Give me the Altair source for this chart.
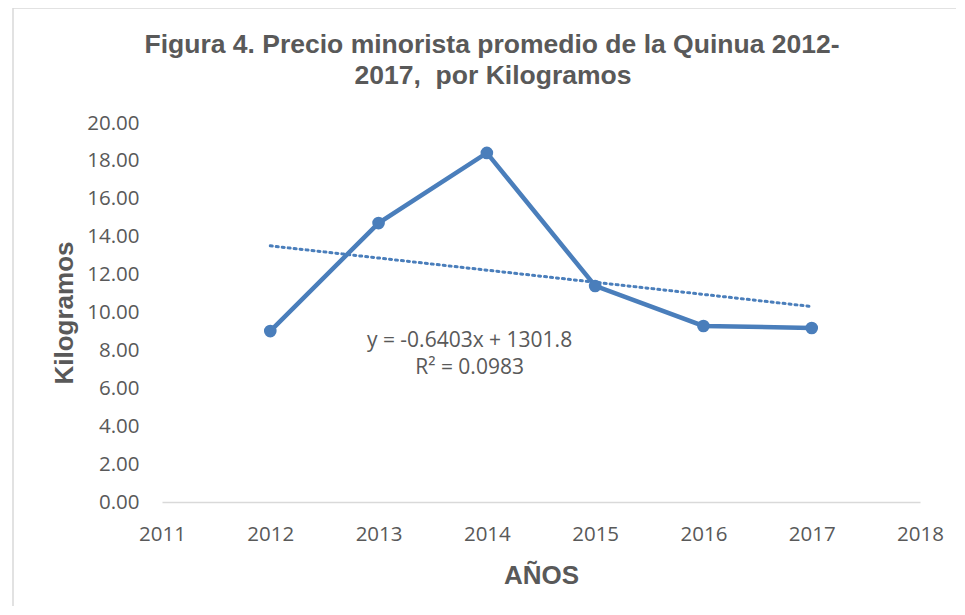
import altair as alt
import pandas as pd

years = [2012, 2013, 2014, 2015, 2016, 2017]
prices = [9.02, 14.72, 18.42, 11.40, 9.29, 9.18]

trend_slope = -0.6403
trend_intercept = 1301.8
trend_years = [2012, 2017]
trend_values = [trend_slope * y + trend_intercept for y in trend_years]

eq_lines = ["y = -0.6403x + 1301.8", "R² = 0.0983"]
eq_x = [2013.84, 2013.84]
eq_y = [8.5, 7.07]

title_lines = ["Figura 4. Precio minorista promedio de la Quinua 2012-", "2017,\u00a0 por Kilogramos"]

x_ticks = [2011, 2012, 2013, 2014, 2015, 2016, 2017, 2018]
y_ticks = [0, 2, 4, 6, 8, 10, 12, 14, 16, 18, 20]

df = pd.DataFrame({"year": years, "price": prices})
tdf = pd.DataFrame({"year": trend_years, "price": trend_values})
edf = pd.DataFrame({"year": eq_x, "price": eq_y, "label": eq_lines})

BLUE = "#4a7ebb"
GRAY = "#595959"

xscale = alt.Scale(domain=[2011, 2018], nice=False, zero=False)
yscale = alt.Scale(domain=[0, 20], nice=False, zero=True)

xenc = alt.X("year:Q", scale=xscale,
             axis=alt.Axis(values=x_ticks, format="d", title="AÑOS", grid=False,
                           ticks=False, domainColor="#d9d9d9", domainWidth=1.5,
                           labelFont="Open Sans", labelFontSize=20.5, labelColor=GRAY,
                           labelPadding=22, labelOverlap=False, labelFlush=False,
                           titleFont="Liberation Sans",
                           titleFontSize=26, titleFontWeight="bold", titleColor=GRAY,
                           titlePadding=18))
yenc = alt.Y("price:Q", scale=yscale,
             axis=alt.Axis(values=y_ticks, format=".2f", title="Kilogramos", grid=False,
                           ticks=False, domain=False,
                           labelFont="Open Sans", labelFontSize=20.5, labelColor=GRAY,
                           labelPadding=23, labelOverlap=False, labelFlush=False,
                           titleFont="Liberation Sans",
                           titleFontSize=26, titleFontWeight="bold", titleColor=GRAY,
                           titlePadding=9))

border = alt.Chart(pd.DataFrame({"a": [0]})).mark_rect(
    fill=None, stroke="#d9d9d9", strokeWidth=1.5
).encode(x=alt.value(-149), x2=alt.value(820), y=alt.value(-115), y2=alt.value(510))

title1 = alt.Chart(pd.DataFrame({"t": [title_lines[0]]})).mark_text(
    font="Liberation Sans", fontSize=26.5, fontWeight="bold", color=GRAY,
    align="center", baseline="middle"
).encode(x=alt.value(330), y=alt.value(-78), text="t:N")
title2 = alt.Chart(pd.DataFrame({"t": [title_lines[1]]})).mark_text(
    font="Liberation Sans", fontSize=26.5, fontWeight="bold", color=GRAY,
    align="center", baseline="middle"
).encode(x=alt.value(331), y=alt.value(-47), text="t:N")

trend = alt.Chart(tdf).mark_line(color=BLUE, strokeWidth=3, strokeDash=[2, 4],
                                 strokeCap="round").encode(x=xenc, y=yenc)
line = alt.Chart(df).mark_line(color=BLUE, strokeWidth=4.5).encode(x=xenc, y=yenc)
pts = alt.Chart(df).mark_circle(color=BLUE, size=160, opacity=1).encode(x=xenc, y=yenc)
txt = alt.Chart(edf).mark_text(font="Open Sans", fontSize=21, color=GRAY,
                               baseline="middle", align="center").encode(
    x=xenc, y=yenc, text="label:N")

chart = alt.layer(border, title1, title2, trend, line, pts, txt).properties(
    width=758, height=379,
    background="white",
    autosize=alt.AutoSizeParams(type="none"),
    padding={"left": 154, "top": 115, "right": 36, "bottom": 104},
).configure_view(strokeWidth=0, stroke="transparent")

chart.save("out.html", embed_options={"renderer": "svg", "actions": False})
